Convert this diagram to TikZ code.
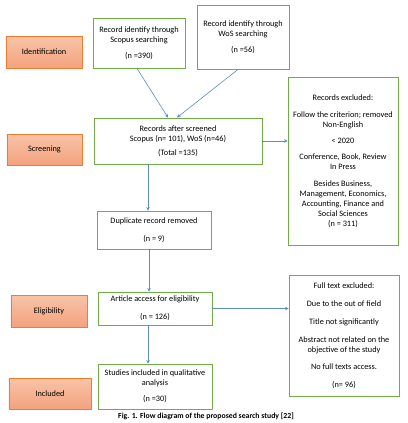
\documentclass[tikz,border=0pt]{standalone}
\usepackage{fontspec}
\setmainfont{Carlito}
\usetikzlibrary{arrows.meta}
\definecolor{recgreen}{HTML}{70AD47}
\definecolor{phaseedge}{HTML}{ED7D31}
\definecolor{phasetop}{HTML}{F8C4A8}
\definecolor{phasebot}{HTML}{F4A27E}
\definecolor{flowblue}{HTML}{5B8BC9}
\newcommand{\fs}{\fontsize{8.3}{10}\selectfont}
\begin{document}
\begin{tikzpicture}[x=1bp,y=-1bp,
        phase/.style={draw=phaseedge,line width=0.8bp,top color=phasetop,
            bottom color=phasebot,inner sep=0pt,font=\fs},
        rec/.style={draw=recgreen,line width=0.9bp,align=center,
            inner sep=0pt,font=\fs},
        flow/.style={-{Stealth[length=3.5bp,width=3.5bp]},draw=flowblue,
            line width=0.6bp}]
\useasboundingbox (0,0) rectangle (408,423);

% phases
\node[phase,minimum width=76bp,minimum height=32bp] (ident) at (44,52) {Identification};
\node[phase,minimum width=75bp,minimum height=31bp] (screen) at (44.5,149.5) {Screening};
\node[phase,minimum width=76bp,minimum height=32bp] (elig) at (49,311) {Eligibility};
\node[phase,minimum width=82bp,minimum height=31bp] (incl) at (50,393.5) {Included};

% records
\node[rec,minimum width=92bp,minimum height=50bp] (scopus) at (139,43)
    {Record identify through\\Scopus searching\\[6bp](n =390)};
\node[rec,minimum width=92bp,minimum height=64bp] (wos) at (243,37)
    {Record identify through\\WoS searching\\[6bp](n =56)};
\node[rec,minimum width=168bp,minimum height=46bp] (screened) at (178,141)
    {Records after screened\\Scopus (n= 101), WoS (n=46)\\[4bp](Total =135)};
\node[rec,minimum width=110bp,minimum height=168bp] (excl) at (343,161)
    {Records excluded:\\[7bp]Follow the criterion; removed\\Non-English\\[6bp]%
    < 2020\\[6bp]Conference, Book, Review\\In Press\\[7bp]%
    Besides Business,\\Management, Economics,\\Accounting, Finance and\\%
    Social Sciences\\(n = 311)};
\node[rec,minimum width=114bp,minimum height=38bp] (dup) at (154,230)
    {Duplicate record removed\\[8bp](n = 9)};
\node[rec,minimum width=114bp,minimum height=33bp] (article) at (155,308.5)
    {Article access for eligibility\\[8bp](n = 126)};
\node[rec,minimum width=114bp,minimum height=45bp] (studies) at (155,386.5)
    {Studies included in qualitative\\analysis\\[6bp](n =30)};
\node[rec,minimum width=110bp,minimum height=121bp] (fulltext) at (344,335.5)
    {Full text excluded:\\[8bp]Due to the out of field\\[8bp]Title not significantly\\[8bp]%
    Abstract not related on the\\objective of the study\\[7bp]No full texts access.\\[8bp](n= 96)};

% caption
\node[font=\fontsize{7.8}{9}\selectfont\bfseries] (cap) at (206,416)
    {Fig. 1. Flow diagram of the proposed search study [22]};

% connectors
\draw[flow] ([xshift=-2bp]scopus.south) -- ([xshift=-10bp]screened.north);
\draw[flow] ([xshift=-5bp]wos.south) -- ([xshift=-1bp]screened.north);
\draw[flow] (screened.east) -- (screened.east -| excl.west);
\draw[flow] ([xshift=-30bp]screened.south) -- ([xshift=-30bp]screened.south |- dup.north);
\draw[flow] ([xshift=-5bp]dup.south) -- ([xshift=-5bp]dup.south |- article.north);
\draw[flow] (article.east) -- (article.east -| fulltext.west);
\draw[flow] ([xshift=-7bp]article.south) -- ([xshift=-7bp]article.south |- studies.north);

\end{tikzpicture}
\end{document}
